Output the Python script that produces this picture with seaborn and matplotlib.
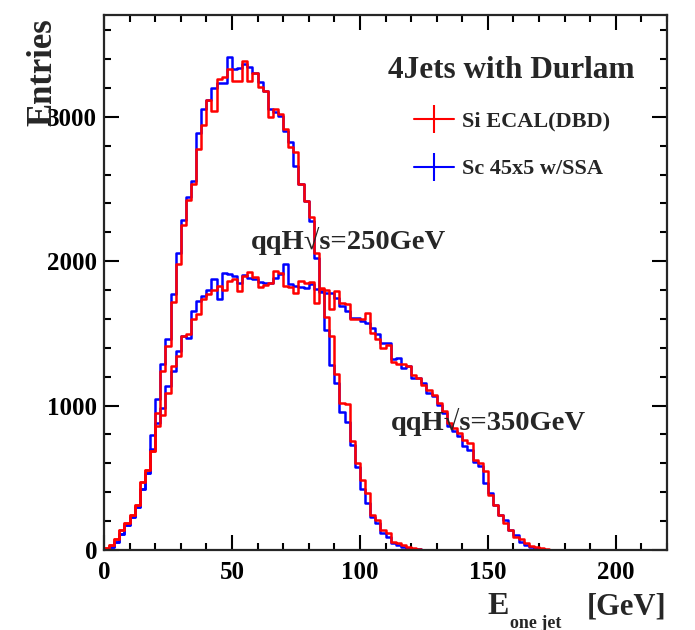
import numpy as np
import pandas as pd
import matplotlib
matplotlib.use("Agg")
import matplotlib.pyplot as plt
from matplotlib.lines import Line2D
from matplotlib.ticker import MultipleLocator
import seaborn as sns

# ---------------- data (entries per 2 GeV bin, starting at 0 GeV) ----------------
bin_width = 2
x_range = (0, 220)

si_250 = [12, 35, 74, 139, 190, 243, 312, 474, 555, 683,
          951, 1238, 1412, 1715, 1979, 2250, 2426, 2535, 2778, 2940,
          3118, 3037, 3259, 3275, 3328, 3248, 3248, 3384, 3248, 3306,
          3206, 3176, 2998, 3056, 3021, 2917, 2789, 2755, 2535, 2419,
          2303, 2060, 1812, 1616, 1482, 1218, 1016, 1011, 755, 605,
          485, 392, 242, 208, 139, 115, 58, 46, 35, 23,
          12, 6, 3, 1]

sc_250 = [10, 20, 55, 110, 175, 230, 300, 420, 530, 799,
          1048, 1290, 1458, 1771, 2060, 2285, 2447, 2553, 2887, 3056,
          3118, 3199, 3234, 3234, 3414, 3329, 3340, 3368, 3345, 3306,
          3241, 3176, 3056, 3032, 3009, 2905, 2824, 2662, 2535, 2419,
          2280, 2020, 1789, 1524, 1281, 1154, 958, 889, 727, 577,
          420, 323, 226, 185, 115, 92, 46, 35, 23, 15,
          8, 4, 2]

si_350 = [12, 35, 74, 139, 190, 243, 312, 474, 555, 683,
          856, 937, 1088, 1273, 1343, 1481, 1493, 1597, 1632, 1736,
          1771, 1801, 1829, 1801, 1863, 1875, 1794, 1898, 1926, 1894,
          1824, 1833, 1852, 1933, 1917, 1829, 1824, 1782, 1863, 1852,
          1856, 1713, 1810, 1800, 1667, 1794, 1713, 1701, 1597, 1600,
          1597, 1640, 1500, 1458, 1400, 1420, 1300, 1285, 1290, 1275,
          1215, 1190, 1140, 1110, 1076, 1019, 961, 880, 845, 810,
          759, 741, 625, 602, 544, 382, 313, 243, 190, 139,
          93, 74, 46, 28, 19, 12, 5, 3, 1]

sc_350 = [10, 20, 55, 110, 175, 230, 300, 420, 530, 700,
          880, 984, 1134, 1238, 1377, 1481, 1470, 1655, 1725, 1759,
          1801, 1880, 1736, 1917, 1910, 1898, 1852, 1903, 1887, 1875,
          1856, 1852, 1852, 1887, 1910, 1979, 1840, 1829, 1824, 1817,
          1840, 1806, 1794, 1782, 1782, 1748, 1690, 1655, 1609, 1610,
          1585, 1570, 1540, 1493, 1435, 1435, 1320, 1331, 1262, 1273,
          1188, 1192, 1157, 1088, 1065, 1007, 949, 857, 822, 787,
          718, 694, 610, 580, 463, 394, 313, 243, 208, 139,
          104, 58, 35, 23, 12, 5, 2]

legend_labels = ["Si ECAL(DBD)", "Sc 45x5 w/SSA"]
series_colors = {"Si": "#ff0000", "Sc": "#0000ff"}
x_ticks = [0, 50, 100, 150, 200]
y_ticks = [0, 1000, 2000, 3000]

# ---------------- style ----------------
sns.set_style("ticks")
plt.rcParams.update({
    "font.family": ["Liberation Serif", "DejaVu Serif"],
    "font.weight": "bold",
})

nb = int((x_range[1] - x_range[0]) / bin_width)
centers = x_range[0] + bin_width * (np.arange(nb) + 0.5)


def full(v):
    a = np.zeros(nb)
    a[:len(v)] = v
    return a


rows = []
for name, vals in [("Sc_350", sc_350), ("Sc_250", sc_250), ("Si_350", si_350), ("Si_250", si_250)]:
    for c, n in zip(centers, full(vals)):
        rows.append({"E": float(c), "N": float(n), "series": name})
df = pd.DataFrame(rows)

fig = plt.figure(figsize=(6.95, 6.30), dpi=100)
ax = fig.add_axes([104 / 695, 80 / 630, 563 / 695, 535 / 630])

for name in ["Sc_350", "Sc_250", "Si_350", "Si_250"]:
    sub = df[df["series"] == name].reset_index(drop=True)
    sns.histplot(data=sub, x="E", weights="N", binwidth=bin_width, binrange=x_range,
                 element="step", fill=False, color=series_colors[name[:2]],
                 linewidth=1.8, ax=ax)

ax.set_xlim(*x_range)
ax.set_ylim(0, 3705)
ax.set_xlabel("")
ax.set_ylabel("")
ax.set_xticks(x_ticks)
ax.set_yticks(y_ticks)
ax.xaxis.set_minor_locator(MultipleLocator(10))
ax.yaxis.set_minor_locator(MultipleLocator(200))
ax.tick_params(which="both", direction="in", top=True, right=True, width=1.5,
               labelsize=18, colors="black")
ax.tick_params(which="major", length=11)
ax.tick_params(which="minor", length=5)
ax.tick_params(axis="x", pad=8)
ax.tick_params(axis="y", pad=5)
for lab in ax.get_xticklabels() + ax.get_yticklabels():
    lab.set_fontweight("bold")
for sp in ax.spines.values():
    sp.set_linewidth(1.6)
    sp.set_visible(True)

# y label "Entries"
fig.text(43 / 695, 1 - 18 / 630, "Entries", rotation=90, ha="center", va="top",
         fontsize=25, fontweight="bold")

# x label  E_{one jet}  [GeV]
fig.text(487 / 695, 1 - 607 / 630, "E", ha="left", va="center", fontsize=23, fontweight="bold")
fig.text(510 / 695, 1 - 623 / 630, "one jet", ha="left", va="center", fontsize=13, fontweight="bold")
fig.text(666 / 695, 1 - 607 / 630, "[GeV]", ha="right", va="center", fontsize=22, fontweight="bold")

# title-like annotation
ax.text((388 - 104) / 563, (550 - 70) / 535, "4Jets with Durlam", transform=ax.transAxes,
        ha="left", va="center", fontsize=22.5, fontweight="bold")

# energy annotations
ax.text((251 - 104) / 563, (550 - 241) / 535, "qqH\u221as=250GeV", transform=ax.transAxes,
        ha="left", va="center", fontsize=20.5, fontweight="bold")
ax.text((391 - 104) / 563, (550 - 422) / 535, "qqH\u221as=350GeV", transform=ax.transAxes,
        ha="left", va="center", fontsize=20.5, fontweight="bold")

handles = [Line2D([0], [0], color=series_colors["Si"], lw=1.5, marker="|", markersize=20, markeredgewidth=1.5),
           Line2D([0], [0], color=series_colors["Sc"], lw=1.5, marker="|", markersize=20, markeredgewidth=1.5)]
leg = ax.legend(handles, legend_labels, loc="upper left",
                bbox_to_anchor=((414 - 104) / 563, (550 - 111) / 535),
                frameon=False, fontsize=16, handlelength=1.8, handletextpad=0.35,
                labelspacing=1.23, borderpad=0, borderaxespad=0)
for t in leg.get_texts():
    t.set_fontweight("bold")

fig.savefig("out.png", dpi=100)
